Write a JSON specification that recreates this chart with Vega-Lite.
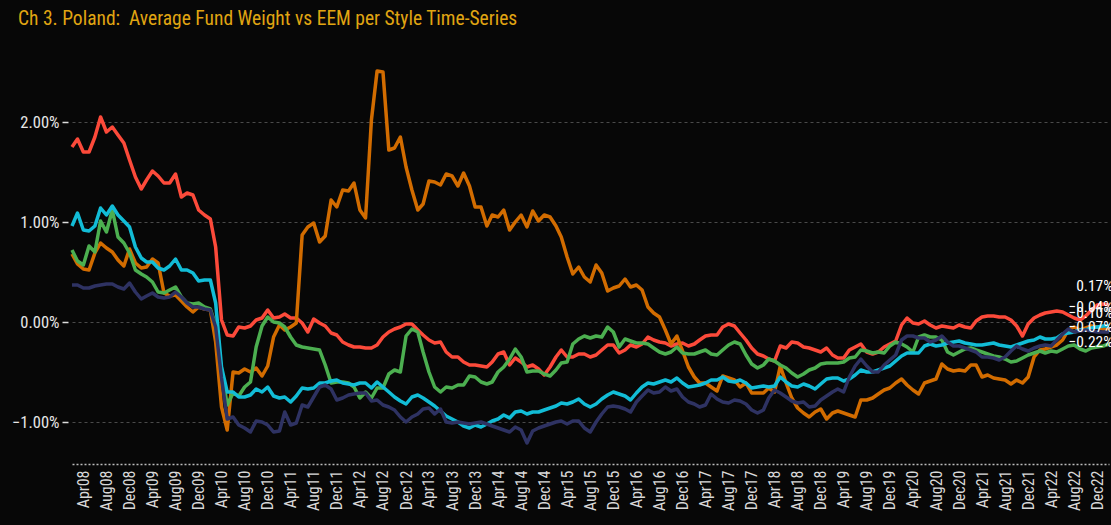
{
"$schema":"https://vega.github.io/schema/vega-lite/v6.json",
"width":1037,"height":402,
"autosize":{"type":"none"},
"padding":{"left":72,"top":62,"right":2,"bottom":61},
"background":"#070707",
"title":{"text":"Ch 3. Poland: \u00a0Average Fund Weight vs EEM per Style Time-Series","anchor":"start","frame":"group","color":"#e0a512","fontSize":19.5,"fontWeight":"normal","font":"Roboto Condensed, Liberation Sans Narrow, DejaVu Sans Condensed, Roboto","dx":-54,"offset":33},
"config":{"view":{"stroke":null},"font":"Roboto Condensed, Liberation Sans Narrow, DejaVu Sans Condensed, Roboto"},
"data":{"format":{"parse":{"d":"utc:'%Y-%m'"}},"values":[
{"d":"2008-02","s":"Value","v":0.0175},{"d":"2008-03","s":"Value","v":0.0183},{"d":"2008-04","s":"Value","v":0.0170},{"d":"2008-05","s":"Value","v":0.0170},{"d":"2008-06","s":"Value","v":0.0185},{"d":"2008-07","s":"Value","v":0.0205},{"d":"2008-08","s":"Value","v":0.0190},{"d":"2008-09","s":"Value","v":0.0195},{"d":"2008-10","s":"Value","v":0.0187},{"d":"2008-11","s":"Value","v":0.0179},{"d":"2008-12","s":"Value","v":0.0162},
{"d":"2009-01","s":"Value","v":0.0145},{"d":"2009-02","s":"Value","v":0.0133},{"d":"2009-03","s":"Value","v":0.0142},{"d":"2009-04","s":"Value","v":0.0151},{"d":"2009-05","s":"Value","v":0.0146},{"d":"2009-06","s":"Value","v":0.0139},{"d":"2009-07","s":"Value","v":0.0139},{"d":"2009-08","s":"Value","v":0.0148},{"d":"2009-09","s":"Value","v":0.0125},{"d":"2009-10","s":"Value","v":0.0129},{"d":"2009-11","s":"Value","v":0.0127},{"d":"2009-12","s":"Value","v":0.0112},
{"d":"2010-01","s":"Value","v":0.0107},{"d":"2010-02","s":"Value","v":0.0103},{"d":"2010-03","s":"Value","v":0.0075},{"d":"2010-04","s":"Value","v":0.0002},{"d":"2010-05","s":"Value","v":-0.0013},{"d":"2010-06","s":"Value","v":-0.0014},{"d":"2010-07","s":"Value","v":-0.0005},{"d":"2010-08","s":"Value","v":-0.0006},{"d":"2010-09","s":"Value","v":-0.0004},{"d":"2010-10","s":"Value","v":0.0002},{"d":"2010-11","s":"Value","v":0.0004},{"d":"2010-12","s":"Value","v":0.0012},
{"d":"2011-01","s":"Value","v":0.0004},{"d":"2011-02","s":"Value","v":0.0005},{"d":"2011-03","s":"Value","v":0.0008},{"d":"2011-04","s":"Value","v":0.0004},{"d":"2011-05","s":"Value","v":0.0004},{"d":"2011-06","s":"Value","v":-0.0001},{"d":"2011-07","s":"Value","v":-0.0010},{"d":"2011-08","s":"Value","v":0.0003},{"d":"2011-09","s":"Value","v":-0.0001},{"d":"2011-10","s":"Value","v":-0.0004},{"d":"2011-11","s":"Value","v":-0.0011},{"d":"2011-12","s":"Value","v":-0.0013},
{"d":"2012-01","s":"Value","v":-0.0020},{"d":"2012-02","s":"Value","v":-0.0023},{"d":"2012-03","s":"Value","v":-0.0025},{"d":"2012-04","s":"Value","v":-0.0025},{"d":"2012-05","s":"Value","v":-0.0026},{"d":"2012-06","s":"Value","v":-0.0026},{"d":"2012-07","s":"Value","v":-0.0023},{"d":"2012-08","s":"Value","v":-0.0015},{"d":"2012-09","s":"Value","v":-0.0010},{"d":"2012-10","s":"Value","v":-0.0007},{"d":"2012-11","s":"Value","v":-0.0005},{"d":"2012-12","s":"Value","v":-0.0002},
{"d":"2013-01","s":"Value","v":-0.0002},{"d":"2013-02","s":"Value","v":-0.0008},{"d":"2013-03","s":"Value","v":-0.0013},{"d":"2013-04","s":"Value","v":-0.0018},{"d":"2013-05","s":"Value","v":-0.0021},{"d":"2013-06","s":"Value","v":-0.0020},{"d":"2013-07","s":"Value","v":-0.0030},{"d":"2013-08","s":"Value","v":-0.0035},{"d":"2013-09","s":"Value","v":-0.0035},{"d":"2013-10","s":"Value","v":-0.0040},{"d":"2013-11","s":"Value","v":-0.0043},{"d":"2013-12","s":"Value","v":-0.0043},
{"d":"2014-01","s":"Value","v":-0.0044},{"d":"2014-02","s":"Value","v":-0.0045},{"d":"2014-03","s":"Value","v":-0.0040},{"d":"2014-04","s":"Value","v":-0.0032},{"d":"2014-05","s":"Value","v":-0.0030},{"d":"2014-06","s":"Value","v":-0.0043},{"d":"2014-07","s":"Value","v":-0.0036},{"d":"2014-08","s":"Value","v":-0.0040},{"d":"2014-09","s":"Value","v":-0.0045},{"d":"2014-10","s":"Value","v":-0.0043},{"d":"2014-11","s":"Value","v":-0.0047},{"d":"2014-12","s":"Value","v":-0.0053},
{"d":"2015-01","s":"Value","v":-0.0045},{"d":"2015-02","s":"Value","v":-0.0035},{"d":"2015-03","s":"Value","v":-0.0028},{"d":"2015-04","s":"Value","v":-0.0035},{"d":"2015-05","s":"Value","v":-0.0035},{"d":"2015-06","s":"Value","v":-0.0032},{"d":"2015-07","s":"Value","v":-0.0032},{"d":"2015-08","s":"Value","v":-0.0035},{"d":"2015-09","s":"Value","v":-0.0033},{"d":"2015-10","s":"Value","v":-0.0028},{"d":"2015-11","s":"Value","v":-0.0023},{"d":"2015-12","s":"Value","v":-0.0023},
{"d":"2016-01","s":"Value","v":-0.0031},{"d":"2016-02","s":"Value","v":-0.0028},{"d":"2016-03","s":"Value","v":-0.0023},{"d":"2016-04","s":"Value","v":-0.0025},{"d":"2016-05","s":"Value","v":-0.0022},{"d":"2016-06","s":"Value","v":-0.0015},{"d":"2016-07","s":"Value","v":-0.0018},{"d":"2016-08","s":"Value","v":-0.0020},{"d":"2016-09","s":"Value","v":-0.0021},{"d":"2016-10","s":"Value","v":-0.0024},{"d":"2016-11","s":"Value","v":-0.0022},{"d":"2016-12","s":"Value","v":-0.0021},
{"d":"2017-01","s":"Value","v":-0.0024},{"d":"2017-02","s":"Value","v":-0.0022},{"d":"2017-03","s":"Value","v":-0.0018},{"d":"2017-04","s":"Value","v":-0.0014},{"d":"2017-05","s":"Value","v":-0.0013},{"d":"2017-06","s":"Value","v":-0.0013},{"d":"2017-07","s":"Value","v":-0.0005},{"d":"2017-08","s":"Value","v":-0.0002},{"d":"2017-09","s":"Value","v":-0.0004},{"d":"2017-10","s":"Value","v":-0.0011},{"d":"2017-11","s":"Value","v":-0.0018},{"d":"2017-12","s":"Value","v":-0.0026},
{"d":"2018-01","s":"Value","v":-0.0032},{"d":"2018-02","s":"Value","v":-0.0034},{"d":"2018-03","s":"Value","v":-0.0037},{"d":"2018-04","s":"Value","v":-0.0039},{"d":"2018-05","s":"Value","v":-0.0024},{"d":"2018-06","s":"Value","v":-0.0026},{"d":"2018-07","s":"Value","v":-0.0020},{"d":"2018-08","s":"Value","v":-0.0021},{"d":"2018-09","s":"Value","v":-0.0025},{"d":"2018-10","s":"Value","v":-0.0026},{"d":"2018-11","s":"Value","v":-0.0028},{"d":"2018-12","s":"Value","v":-0.0030},
{"d":"2019-01","s":"Value","v":-0.0026},{"d":"2019-02","s":"Value","v":-0.0033},{"d":"2019-03","s":"Value","v":-0.0036},{"d":"2019-04","s":"Value","v":-0.0036},{"d":"2019-05","s":"Value","v":-0.0028},{"d":"2019-06","s":"Value","v":-0.0025},{"d":"2019-07","s":"Value","v":-0.0022},{"d":"2019-08","s":"Value","v":-0.0030},{"d":"2019-09","s":"Value","v":-0.0032},{"d":"2019-10","s":"Value","v":-0.0030},{"d":"2019-11","s":"Value","v":-0.0025},{"d":"2019-12","s":"Value","v":-0.0022},
{"d":"2020-01","s":"Value","v":-0.0019},{"d":"2020-02","s":"Value","v":-0.0003},{"d":"2020-03","s":"Value","v":0.0004},{"d":"2020-04","s":"Value","v":-0.0001},{"d":"2020-05","s":"Value","v":-0.0002},{"d":"2020-06","s":"Value","v":0.0001},{"d":"2020-07","s":"Value","v":-0.0003},{"d":"2020-08","s":"Value","v":-0.0006},{"d":"2020-09","s":"Value","v":-0.0004},{"d":"2020-10","s":"Value","v":-0.0005},{"d":"2020-11","s":"Value","v":-0.0006},{"d":"2020-12","s":"Value","v":-0.0003},
{"d":"2021-01","s":"Value","v":-0.0005},{"d":"2021-02","s":"Value","v":-0.0006},{"d":"2021-03","s":"Value","v":0.0001},{"d":"2021-04","s":"Value","v":0.0005},{"d":"2021-05","s":"Value","v":0.0006},{"d":"2021-06","s":"Value","v":0.0006},{"d":"2021-07","s":"Value","v":0.0005},{"d":"2021-08","s":"Value","v":0.0005},{"d":"2021-09","s":"Value","v":0.0002},{"d":"2021-10","s":"Value","v":-0.0004},{"d":"2021-11","s":"Value","v":-0.0014},{"d":"2021-12","s":"Value","v":-0.0002},
{"d":"2022-01","s":"Value","v":0.0004},{"d":"2022-02","s":"Value","v":0.0007},{"d":"2022-03","s":"Value","v":0.0009},{"d":"2022-04","s":"Value","v":0.0010},{"d":"2022-05","s":"Value","v":0.0011},{"d":"2022-06","s":"Value","v":0.0010},{"d":"2022-07","s":"Value","v":0.0007},{"d":"2022-08","s":"Value","v":0.0004},{"d":"2022-09","s":"Value","v":0.0002},{"d":"2022-10","s":"Value","v":0.0006},{"d":"2022-11","s":"Value","v":0.0012},{"d":"2022-12","s":"Value","v":0.0017},
{"d":"2023-01","s":"Value","v":0.0018},{"d":"2023-02","s":"Value","v":0.0017},

{"d":"2008-02","s":"Aggr","v":0.0068},{"d":"2008-03","s":"Aggr","v":0.0058},{"d":"2008-04","s":"Aggr","v":0.0053},{"d":"2008-05","s":"Aggr","v":0.0052},{"d":"2008-06","s":"Aggr","v":0.0069},{"d":"2008-07","s":"Aggr","v":0.0079},{"d":"2008-08","s":"Aggr","v":0.0074},{"d":"2008-09","s":"Aggr","v":0.0070},{"d":"2008-10","s":"Aggr","v":0.0062},{"d":"2008-11","s":"Aggr","v":0.0056},{"d":"2008-12","s":"Aggr","v":0.0073},
{"d":"2009-01","s":"Aggr","v":0.0059},{"d":"2009-02","s":"Aggr","v":0.0054},{"d":"2009-03","s":"Aggr","v":0.0055},{"d":"2009-04","s":"Aggr","v":0.0063},{"d":"2009-05","s":"Aggr","v":0.0059},{"d":"2009-06","s":"Aggr","v":0.0029},{"d":"2009-07","s":"Aggr","v":0.0026},{"d":"2009-08","s":"Aggr","v":0.0027},{"d":"2009-09","s":"Aggr","v":0.0021},{"d":"2009-10","s":"Aggr","v":0.0015},{"d":"2009-11","s":"Aggr","v":0.0010},{"d":"2009-12","s":"Aggr","v":0.0015},
{"d":"2010-01","s":"Aggr","v":0.0013},{"d":"2010-02","s":"Aggr","v":0.0012},{"d":"2010-03","s":"Aggr","v":-0.0020},{"d":"2010-04","s":"Aggr","v":-0.0085},{"d":"2010-05","s":"Aggr","v":-0.0108},{"d":"2010-06","s":"Aggr","v":-0.0050},{"d":"2010-07","s":"Aggr","v":-0.0051},{"d":"2010-08","s":"Aggr","v":-0.0047},{"d":"2010-09","s":"Aggr","v":-0.0050},{"d":"2010-10","s":"Aggr","v":-0.0046},{"d":"2010-11","s":"Aggr","v":-0.0054},{"d":"2010-12","s":"Aggr","v":-0.0044},
{"d":"2011-01","s":"Aggr","v":-0.0015},{"d":"2011-02","s":"Aggr","v":-0.0003},{"d":"2011-03","s":"Aggr","v":-0.0008},{"d":"2011-04","s":"Aggr","v":-0.0005},{"d":"2011-05","s":"Aggr","v":-0.0001},{"d":"2011-06","s":"Aggr","v":0.0087},{"d":"2011-07","s":"Aggr","v":0.0095},{"d":"2011-08","s":"Aggr","v":0.0099},{"d":"2011-09","s":"Aggr","v":0.0080},{"d":"2011-10","s":"Aggr","v":0.0086},{"d":"2011-11","s":"Aggr","v":0.0122},{"d":"2011-12","s":"Aggr","v":0.0115},
{"d":"2012-01","s":"Aggr","v":0.0132},{"d":"2012-02","s":"Aggr","v":0.0131},{"d":"2012-03","s":"Aggr","v":0.0139},{"d":"2012-04","s":"Aggr","v":0.0112},{"d":"2012-05","s":"Aggr","v":0.0104},{"d":"2012-06","s":"Aggr","v":0.0202},{"d":"2012-07","s":"Aggr","v":0.0251},{"d":"2012-08","s":"Aggr","v":0.0250},{"d":"2012-09","s":"Aggr","v":0.0172},{"d":"2012-10","s":"Aggr","v":0.0174},{"d":"2012-11","s":"Aggr","v":0.0185},{"d":"2012-12","s":"Aggr","v":0.0155},
{"d":"2013-01","s":"Aggr","v":0.0132},{"d":"2013-02","s":"Aggr","v":0.0112},{"d":"2013-03","s":"Aggr","v":0.0118},{"d":"2013-04","s":"Aggr","v":0.0141},{"d":"2013-05","s":"Aggr","v":0.0140},{"d":"2013-06","s":"Aggr","v":0.0137},{"d":"2013-07","s":"Aggr","v":0.0148},{"d":"2013-08","s":"Aggr","v":0.0146},{"d":"2013-09","s":"Aggr","v":0.0136},{"d":"2013-10","s":"Aggr","v":0.0149},{"d":"2013-11","s":"Aggr","v":0.0136},{"d":"2013-12","s":"Aggr","v":0.0115},
{"d":"2014-01","s":"Aggr","v":0.0115},{"d":"2014-02","s":"Aggr","v":0.0096},{"d":"2014-03","s":"Aggr","v":0.0107},{"d":"2014-04","s":"Aggr","v":0.0105},{"d":"2014-05","s":"Aggr","v":0.0112},{"d":"2014-06","s":"Aggr","v":0.0092},{"d":"2014-07","s":"Aggr","v":0.0100},{"d":"2014-08","s":"Aggr","v":0.0107},{"d":"2014-09","s":"Aggr","v":0.0095},{"d":"2014-10","s":"Aggr","v":0.0111},{"d":"2014-11","s":"Aggr","v":0.0101},{"d":"2014-12","s":"Aggr","v":0.0107},
{"d":"2015-01","s":"Aggr","v":0.0105},{"d":"2015-02","s":"Aggr","v":0.0096},{"d":"2015-03","s":"Aggr","v":0.0085},{"d":"2015-04","s":"Aggr","v":0.0065},{"d":"2015-05","s":"Aggr","v":0.0048},{"d":"2015-06","s":"Aggr","v":0.0055},{"d":"2015-07","s":"Aggr","v":0.0045},{"d":"2015-08","s":"Aggr","v":0.0040},{"d":"2015-09","s":"Aggr","v":0.0057},{"d":"2015-10","s":"Aggr","v":0.0049},{"d":"2015-11","s":"Aggr","v":0.0031},{"d":"2015-12","s":"Aggr","v":0.0034},
{"d":"2016-01","s":"Aggr","v":0.0036},{"d":"2016-02","s":"Aggr","v":0.0043},{"d":"2016-03","s":"Aggr","v":0.0035},{"d":"2016-04","s":"Aggr","v":0.0037},{"d":"2016-05","s":"Aggr","v":0.0032},{"d":"2016-06","s":"Aggr","v":0.0015},{"d":"2016-07","s":"Aggr","v":0.0009},{"d":"2016-08","s":"Aggr","v":0.0005},{"d":"2016-09","s":"Aggr","v":-0.0008},{"d":"2016-10","s":"Aggr","v":-0.0022},{"d":"2016-11","s":"Aggr","v":-0.0014},{"d":"2016-12","s":"Aggr","v":-0.0029},
{"d":"2017-01","s":"Aggr","v":-0.0045},{"d":"2017-02","s":"Aggr","v":-0.0055},{"d":"2017-03","s":"Aggr","v":-0.0061},{"d":"2017-04","s":"Aggr","v":-0.0061},{"d":"2017-05","s":"Aggr","v":-0.0065},{"d":"2017-06","s":"Aggr","v":-0.0069},{"d":"2017-07","s":"Aggr","v":-0.0054},{"d":"2017-08","s":"Aggr","v":-0.0056},{"d":"2017-09","s":"Aggr","v":-0.0058},{"d":"2017-10","s":"Aggr","v":-0.0065},{"d":"2017-11","s":"Aggr","v":-0.0061},{"d":"2017-12","s":"Aggr","v":-0.0071},
{"d":"2018-01","s":"Aggr","v":-0.0071},{"d":"2018-02","s":"Aggr","v":-0.0071},{"d":"2018-03","s":"Aggr","v":-0.0066},{"d":"2018-04","s":"Aggr","v":-0.0070},{"d":"2018-05","s":"Aggr","v":-0.0044},{"d":"2018-06","s":"Aggr","v":-0.0061},{"d":"2018-07","s":"Aggr","v":-0.0076},{"d":"2018-08","s":"Aggr","v":-0.0086},{"d":"2018-09","s":"Aggr","v":-0.0091},{"d":"2018-10","s":"Aggr","v":-0.0095},{"d":"2018-11","s":"Aggr","v":-0.0090},{"d":"2018-12","s":"Aggr","v":-0.0087},
{"d":"2019-01","s":"Aggr","v":-0.0097},{"d":"2019-02","s":"Aggr","v":-0.0091},{"d":"2019-03","s":"Aggr","v":-0.0089},{"d":"2019-04","s":"Aggr","v":-0.0091},{"d":"2019-05","s":"Aggr","v":-0.0093},{"d":"2019-06","s":"Aggr","v":-0.0095},{"d":"2019-07","s":"Aggr","v":-0.0078},{"d":"2019-08","s":"Aggr","v":-0.0078},{"d":"2019-09","s":"Aggr","v":-0.0076},{"d":"2019-10","s":"Aggr","v":-0.0072},{"d":"2019-11","s":"Aggr","v":-0.0068},{"d":"2019-12","s":"Aggr","v":-0.0066},
{"d":"2020-01","s":"Aggr","v":-0.0061},{"d":"2020-02","s":"Aggr","v":-0.0057},{"d":"2020-03","s":"Aggr","v":-0.0063},{"d":"2020-04","s":"Aggr","v":-0.0068},{"d":"2020-05","s":"Aggr","v":-0.0072},{"d":"2020-06","s":"Aggr","v":-0.0061},{"d":"2020-07","s":"Aggr","v":-0.0059},{"d":"2020-08","s":"Aggr","v":-0.0057},{"d":"2020-09","s":"Aggr","v":-0.0042},{"d":"2020-10","s":"Aggr","v":-0.0047},{"d":"2020-11","s":"Aggr","v":-0.0049},{"d":"2020-12","s":"Aggr","v":-0.0048},
{"d":"2021-01","s":"Aggr","v":-0.0049},{"d":"2021-02","s":"Aggr","v":-0.0043},{"d":"2021-03","s":"Aggr","v":-0.0043},{"d":"2021-04","s":"Aggr","v":-0.0055},{"d":"2021-05","s":"Aggr","v":-0.0053},{"d":"2021-06","s":"Aggr","v":-0.0056},{"d":"2021-07","s":"Aggr","v":-0.0057},{"d":"2021-08","s":"Aggr","v":-0.0058},{"d":"2021-09","s":"Aggr","v":-0.0062},{"d":"2021-10","s":"Aggr","v":-0.0058},{"d":"2021-11","s":"Aggr","v":-0.0061},{"d":"2021-12","s":"Aggr","v":-0.0055},
{"d":"2022-01","s":"Aggr","v":-0.0035},{"d":"2022-02","s":"Aggr","v":-0.0028},{"d":"2022-03","s":"Aggr","v":-0.0027},{"d":"2022-04","s":"Aggr","v":-0.0025},{"d":"2022-05","s":"Aggr","v":-0.0023},{"d":"2022-06","s":"Aggr","v":-0.0018},{"d":"2022-07","s":"Aggr","v":-0.0008},{"d":"2022-08","s":"Aggr","v":-0.0005},{"d":"2022-09","s":"Aggr","v":-0.0008},{"d":"2022-10","s":"Aggr","v":-0.0006},{"d":"2022-11","s":"Aggr","v":-0.0004},{"d":"2022-12","s":"Aggr","v":-0.0005},
{"d":"2023-01","s":"Aggr","v":-0.0007},{"d":"2023-02","s":"Aggr","v":-0.0007},

{"d":"2008-02","s":"GARP","v":0.0072},{"d":"2008-03","s":"GARP","v":0.0061},{"d":"2008-04","s":"GARP","v":0.0057},{"d":"2008-05","s":"GARP","v":0.0076},{"d":"2008-06","s":"GARP","v":0.0070},{"d":"2008-07","s":"GARP","v":0.0101},{"d":"2008-08","s":"GARP","v":0.0090},{"d":"2008-09","s":"GARP","v":0.0112},{"d":"2008-10","s":"GARP","v":0.0085},{"d":"2008-11","s":"GARP","v":0.0079},{"d":"2008-12","s":"GARP","v":0.0069},
{"d":"2009-01","s":"GARP","v":0.0052},{"d":"2009-02","s":"GARP","v":0.0048},{"d":"2009-03","s":"GARP","v":0.0045},{"d":"2009-04","s":"GARP","v":0.0040},{"d":"2009-05","s":"GARP","v":0.0030},{"d":"2009-06","s":"GARP","v":0.0029},{"d":"2009-07","s":"GARP","v":0.0032},{"d":"2009-08","s":"GARP","v":0.0035},{"d":"2009-09","s":"GARP","v":0.0025},{"d":"2009-10","s":"GARP","v":0.0019},{"d":"2009-11","s":"GARP","v":0.0018},{"d":"2009-12","s":"GARP","v":0.0019},
{"d":"2010-01","s":"GARP","v":0.0015},{"d":"2010-02","s":"GARP","v":0.0013},{"d":"2010-03","s":"GARP","v":-0.0003},{"d":"2010-04","s":"GARP","v":-0.0047},{"d":"2010-05","s":"GARP","v":-0.0083},{"d":"2010-06","s":"GARP","v":-0.0071},{"d":"2010-07","s":"GARP","v":-0.0074},{"d":"2010-08","s":"GARP","v":-0.0065},{"d":"2010-09","s":"GARP","v":-0.0060},{"d":"2010-10","s":"GARP","v":-0.0025},{"d":"2010-11","s":"GARP","v":-0.0004},{"d":"2010-12","s":"GARP","v":0.0005},
{"d":"2011-01","s":"GARP","v":0.0000},{"d":"2011-02","s":"GARP","v":-0.0001},{"d":"2011-03","s":"GARP","v":-0.0005},{"d":"2011-04","s":"GARP","v":-0.0015},{"d":"2011-05","s":"GARP","v":-0.0023},{"d":"2011-06","s":"GARP","v":-0.0025},{"d":"2011-07","s":"GARP","v":-0.0026},{"d":"2011-08","s":"GARP","v":-0.0027},{"d":"2011-09","s":"GARP","v":-0.0028},{"d":"2011-10","s":"GARP","v":-0.0043},{"d":"2011-11","s":"GARP","v":-0.0061},{"d":"2011-12","s":"GARP","v":-0.0060},
{"d":"2012-01","s":"GARP","v":-0.0060},{"d":"2012-02","s":"GARP","v":-0.0061},{"d":"2012-03","s":"GARP","v":-0.0065},{"d":"2012-04","s":"GARP","v":-0.0076},{"d":"2012-05","s":"GARP","v":-0.0070},{"d":"2012-06","s":"GARP","v":-0.0076},{"d":"2012-07","s":"GARP","v":-0.0066},{"d":"2012-08","s":"GARP","v":-0.0066},{"d":"2012-09","s":"GARP","v":-0.0052},{"d":"2012-10","s":"GARP","v":-0.0048},{"d":"2012-11","s":"GARP","v":-0.0050},{"d":"2012-12","s":"GARP","v":-0.0014},
{"d":"2013-01","s":"GARP","v":-0.0007},{"d":"2013-02","s":"GARP","v":-0.0010},{"d":"2013-03","s":"GARP","v":-0.0030},{"d":"2013-04","s":"GARP","v":-0.0050},{"d":"2013-05","s":"GARP","v":-0.0065},{"d":"2013-06","s":"GARP","v":-0.0070},{"d":"2013-07","s":"GARP","v":-0.0065},{"d":"2013-08","s":"GARP","v":-0.0066},{"d":"2013-09","s":"GARP","v":-0.0063},{"d":"2013-10","s":"GARP","v":-0.0063},{"d":"2013-11","s":"GARP","v":-0.0054},{"d":"2013-12","s":"GARP","v":-0.0055},
{"d":"2014-01","s":"GARP","v":-0.0060},{"d":"2014-02","s":"GARP","v":-0.0062},{"d":"2014-03","s":"GARP","v":-0.0060},{"d":"2014-04","s":"GARP","v":-0.0050},{"d":"2014-05","s":"GARP","v":-0.0045},{"d":"2014-06","s":"GARP","v":-0.0037},{"d":"2014-07","s":"GARP","v":-0.0027},{"d":"2014-08","s":"GARP","v":-0.0035},{"d":"2014-09","s":"GARP","v":-0.0050},{"d":"2014-10","s":"GARP","v":-0.0049},{"d":"2014-11","s":"GARP","v":-0.0049},{"d":"2014-12","s":"GARP","v":-0.0052},
{"d":"2015-01","s":"GARP","v":-0.0054},{"d":"2015-02","s":"GARP","v":-0.0048},{"d":"2015-03","s":"GARP","v":-0.0041},{"d":"2015-04","s":"GARP","v":-0.0040},{"d":"2015-05","s":"GARP","v":-0.0022},{"d":"2015-06","s":"GARP","v":-0.0017},{"d":"2015-07","s":"GARP","v":-0.0014},{"d":"2015-08","s":"GARP","v":-0.0016},{"d":"2015-09","s":"GARP","v":-0.0014},{"d":"2015-10","s":"GARP","v":-0.0015},{"d":"2015-11","s":"GARP","v":-0.0005},{"d":"2015-12","s":"GARP","v":-0.0010},
{"d":"2016-01","s":"GARP","v":-0.0025},{"d":"2016-02","s":"GARP","v":-0.0017},{"d":"2016-03","s":"GARP","v":-0.0019},{"d":"2016-04","s":"GARP","v":-0.0021},{"d":"2016-05","s":"GARP","v":-0.0021},{"d":"2016-06","s":"GARP","v":-0.0022},{"d":"2016-07","s":"GARP","v":-0.0026},{"d":"2016-08","s":"GARP","v":-0.0030},{"d":"2016-09","s":"GARP","v":-0.0032},{"d":"2016-10","s":"GARP","v":-0.0030},{"d":"2016-11","s":"GARP","v":-0.0025},{"d":"2016-12","s":"GARP","v":-0.0031},
{"d":"2017-01","s":"GARP","v":-0.0032},{"d":"2017-02","s":"GARP","v":-0.0032},{"d":"2017-03","s":"GARP","v":-0.0030},{"d":"2017-04","s":"GARP","v":-0.0028},{"d":"2017-05","s":"GARP","v":-0.0032},{"d":"2017-06","s":"GARP","v":-0.0033},{"d":"2017-07","s":"GARP","v":-0.0028},{"d":"2017-08","s":"GARP","v":-0.0023},{"d":"2017-09","s":"GARP","v":-0.0020},{"d":"2017-10","s":"GARP","v":-0.0022},{"d":"2017-11","s":"GARP","v":-0.0033},{"d":"2017-12","s":"GARP","v":-0.0042},
{"d":"2018-01","s":"GARP","v":-0.0046},{"d":"2018-02","s":"GARP","v":-0.0043},{"d":"2018-03","s":"GARP","v":-0.0037},{"d":"2018-04","s":"GARP","v":-0.0039},{"d":"2018-05","s":"GARP","v":-0.0043},{"d":"2018-06","s":"GARP","v":-0.0046},{"d":"2018-07","s":"GARP","v":-0.0051},{"d":"2018-08","s":"GARP","v":-0.0055},{"d":"2018-09","s":"GARP","v":-0.0052},{"d":"2018-10","s":"GARP","v":-0.0048},{"d":"2018-11","s":"GARP","v":-0.0046},{"d":"2018-12","s":"GARP","v":-0.0042},
{"d":"2019-01","s":"GARP","v":-0.0041},{"d":"2019-02","s":"GARP","v":-0.0041},{"d":"2019-03","s":"GARP","v":-0.0041},{"d":"2019-04","s":"GARP","v":-0.0040},{"d":"2019-05","s":"GARP","v":-0.0036},{"d":"2019-06","s":"GARP","v":-0.0035},{"d":"2019-07","s":"GARP","v":-0.0028},{"d":"2019-08","s":"GARP","v":-0.0029},{"d":"2019-09","s":"GARP","v":-0.0031},{"d":"2019-10","s":"GARP","v":-0.0030},{"d":"2019-11","s":"GARP","v":-0.0031},{"d":"2019-12","s":"GARP","v":-0.0024},
{"d":"2020-01","s":"GARP","v":-0.0020},{"d":"2020-02","s":"GARP","v":-0.0022},{"d":"2020-03","s":"GARP","v":-0.0025},{"d":"2020-04","s":"GARP","v":-0.0030},{"d":"2020-05","s":"GARP","v":-0.0015},{"d":"2020-06","s":"GARP","v":-0.0013},{"d":"2020-07","s":"GARP","v":-0.0015},{"d":"2020-08","s":"GARP","v":-0.0015},{"d":"2020-09","s":"GARP","v":-0.0018},{"d":"2020-10","s":"GARP","v":-0.0030},{"d":"2020-11","s":"GARP","v":-0.0033},{"d":"2020-12","s":"GARP","v":-0.0030},
{"d":"2021-01","s":"GARP","v":-0.0027},{"d":"2021-02","s":"GARP","v":-0.0026},{"d":"2021-03","s":"GARP","v":-0.0028},{"d":"2021-04","s":"GARP","v":-0.0030},{"d":"2021-05","s":"GARP","v":-0.0032},{"d":"2021-06","s":"GARP","v":-0.0034},{"d":"2021-07","s":"GARP","v":-0.0035},{"d":"2021-08","s":"GARP","v":-0.0037},{"d":"2021-09","s":"GARP","v":-0.0040},{"d":"2021-10","s":"GARP","v":-0.0039},{"d":"2021-11","s":"GARP","v":-0.0036},{"d":"2021-12","s":"GARP","v":-0.0033},
{"d":"2022-01","s":"GARP","v":-0.0031},{"d":"2022-02","s":"GARP","v":-0.0029},{"d":"2022-03","s":"GARP","v":-0.0031},{"d":"2022-04","s":"GARP","v":-0.0029},{"d":"2022-05","s":"GARP","v":-0.0030},{"d":"2022-06","s":"GARP","v":-0.0027},{"d":"2022-07","s":"GARP","v":-0.0024},{"d":"2022-08","s":"GARP","v":-0.0023},{"d":"2022-09","s":"GARP","v":-0.0027},{"d":"2022-10","s":"GARP","v":-0.0029},{"d":"2022-11","s":"GARP","v":-0.0026},{"d":"2022-12","s":"GARP","v":-0.0025},
{"d":"2023-01","s":"GARP","v":-0.0024},{"d":"2023-02","s":"GARP","v":-0.0022},

{"d":"2008-02","s":"Growth","v":0.0096},{"d":"2008-03","s":"Growth","v":0.0109},{"d":"2008-04","s":"Growth","v":0.0092},{"d":"2008-05","s":"Growth","v":0.0091},{"d":"2008-06","s":"Growth","v":0.0096},{"d":"2008-07","s":"Growth","v":0.0114},{"d":"2008-08","s":"Growth","v":0.0107},{"d":"2008-09","s":"Growth","v":0.0116},{"d":"2008-10","s":"Growth","v":0.0107},{"d":"2008-11","s":"Growth","v":0.0101},{"d":"2008-12","s":"Growth","v":0.0095},
{"d":"2009-01","s":"Growth","v":0.0075},{"d":"2009-02","s":"Growth","v":0.0064},{"d":"2009-03","s":"Growth","v":0.0060},{"d":"2009-04","s":"Growth","v":0.0060},{"d":"2009-05","s":"Growth","v":0.0054},{"d":"2009-06","s":"Growth","v":0.0052},{"d":"2009-07","s":"Growth","v":0.0056},{"d":"2009-08","s":"Growth","v":0.0063},{"d":"2009-09","s":"Growth","v":0.0052},{"d":"2009-10","s":"Growth","v":0.0052},{"d":"2009-11","s":"Growth","v":0.0049},{"d":"2009-12","s":"Growth","v":0.0041},
{"d":"2010-01","s":"Growth","v":0.0042},{"d":"2010-02","s":"Growth","v":0.0042},{"d":"2010-03","s":"Growth","v":0.0019},{"d":"2010-04","s":"Growth","v":-0.0045},{"d":"2010-05","s":"Growth","v":-0.0070},{"d":"2010-06","s":"Growth","v":-0.0070},{"d":"2010-07","s":"Growth","v":-0.0075},{"d":"2010-08","s":"Growth","v":-0.0075},{"d":"2010-09","s":"Growth","v":-0.0073},{"d":"2010-10","s":"Growth","v":-0.0067},{"d":"2010-11","s":"Growth","v":-0.0070},{"d":"2010-12","s":"Growth","v":-0.0065},
{"d":"2011-01","s":"Growth","v":-0.0074},{"d":"2011-02","s":"Growth","v":-0.0076},{"d":"2011-03","s":"Growth","v":-0.0075},{"d":"2011-04","s":"Growth","v":-0.0080},{"d":"2011-05","s":"Growth","v":-0.0074},{"d":"2011-06","s":"Growth","v":-0.0066},{"d":"2011-07","s":"Growth","v":-0.0067},{"d":"2011-08","s":"Growth","v":-0.0066},{"d":"2011-09","s":"Growth","v":-0.0061},{"d":"2011-10","s":"Growth","v":-0.0061},{"d":"2011-11","s":"Growth","v":-0.0059},{"d":"2011-12","s":"Growth","v":-0.0058},
{"d":"2012-01","s":"Growth","v":-0.0061},{"d":"2012-02","s":"Growth","v":-0.0062},{"d":"2012-03","s":"Growth","v":-0.0063},{"d":"2012-04","s":"Growth","v":-0.0061},{"d":"2012-05","s":"Growth","v":-0.0061},{"d":"2012-06","s":"Growth","v":-0.0066},{"d":"2012-07","s":"Growth","v":-0.0060},{"d":"2012-08","s":"Growth","v":-0.0065},{"d":"2012-09","s":"Growth","v":-0.0070},{"d":"2012-10","s":"Growth","v":-0.0075},{"d":"2012-11","s":"Growth","v":-0.0079},{"d":"2012-12","s":"Growth","v":-0.0082},
{"d":"2013-01","s":"Growth","v":-0.0075},{"d":"2013-02","s":"Growth","v":-0.0073},{"d":"2013-03","s":"Growth","v":-0.0076},{"d":"2013-04","s":"Growth","v":-0.0080},{"d":"2013-05","s":"Growth","v":-0.0084},{"d":"2013-06","s":"Growth","v":-0.0089},{"d":"2013-07","s":"Growth","v":-0.0094},{"d":"2013-08","s":"Growth","v":-0.0097},{"d":"2013-09","s":"Growth","v":-0.0100},{"d":"2013-10","s":"Growth","v":-0.0104},{"d":"2013-11","s":"Growth","v":-0.0106},{"d":"2013-12","s":"Growth","v":-0.0103},
{"d":"2014-01","s":"Growth","v":-0.0105},{"d":"2014-02","s":"Growth","v":-0.0102},{"d":"2014-03","s":"Growth","v":-0.0099},{"d":"2014-04","s":"Growth","v":-0.0097},{"d":"2014-05","s":"Growth","v":-0.0093},{"d":"2014-06","s":"Growth","v":-0.0096},{"d":"2014-07","s":"Growth","v":-0.0090},{"d":"2014-08","s":"Growth","v":-0.0089},{"d":"2014-09","s":"Growth","v":-0.0092},{"d":"2014-10","s":"Growth","v":-0.0090},{"d":"2014-11","s":"Growth","v":-0.0090},{"d":"2014-12","s":"Growth","v":-0.0088},
{"d":"2015-01","s":"Growth","v":-0.0086},{"d":"2015-02","s":"Growth","v":-0.0084},{"d":"2015-03","s":"Growth","v":-0.0081},{"d":"2015-04","s":"Growth","v":-0.0082},{"d":"2015-05","s":"Growth","v":-0.0080},{"d":"2015-06","s":"Growth","v":-0.0077},{"d":"2015-07","s":"Growth","v":-0.0082},{"d":"2015-08","s":"Growth","v":-0.0085},{"d":"2015-09","s":"Growth","v":-0.0082},{"d":"2015-10","s":"Growth","v":-0.0077},{"d":"2015-11","s":"Growth","v":-0.0073},{"d":"2015-12","s":"Growth","v":-0.0070},
{"d":"2016-01","s":"Growth","v":-0.0072},{"d":"2016-02","s":"Growth","v":-0.0074},{"d":"2016-03","s":"Growth","v":-0.0078},{"d":"2016-04","s":"Growth","v":-0.0071},{"d":"2016-05","s":"Growth","v":-0.0065},{"d":"2016-06","s":"Growth","v":-0.0061},{"d":"2016-07","s":"Growth","v":-0.0062},{"d":"2016-08","s":"Growth","v":-0.0060},{"d":"2016-09","s":"Growth","v":-0.0058},{"d":"2016-10","s":"Growth","v":-0.0060},{"d":"2016-11","s":"Growth","v":-0.0056},{"d":"2016-12","s":"Growth","v":-0.0061},
{"d":"2017-01","s":"Growth","v":-0.0065},{"d":"2017-02","s":"Growth","v":-0.0064},{"d":"2017-03","s":"Growth","v":-0.0063},{"d":"2017-04","s":"Growth","v":-0.0061},{"d":"2017-05","s":"Growth","v":-0.0058},{"d":"2017-06","s":"Growth","v":-0.0058},{"d":"2017-07","s":"Growth","v":-0.0055},{"d":"2017-08","s":"Growth","v":-0.0059},{"d":"2017-09","s":"Growth","v":-0.0060},{"d":"2017-10","s":"Growth","v":-0.0058},{"d":"2017-11","s":"Growth","v":-0.0061},{"d":"2017-12","s":"Growth","v":-0.0066},
{"d":"2018-01","s":"Growth","v":-0.0065},{"d":"2018-02","s":"Growth","v":-0.0064},{"d":"2018-03","s":"Growth","v":-0.0065},{"d":"2018-04","s":"Growth","v":-0.0064},{"d":"2018-05","s":"Growth","v":-0.0055},{"d":"2018-06","s":"Growth","v":-0.0060},{"d":"2018-07","s":"Growth","v":-0.0064},{"d":"2018-08","s":"Growth","v":-0.0065},{"d":"2018-09","s":"Growth","v":-0.0062},{"d":"2018-10","s":"Growth","v":-0.0064},{"d":"2018-11","s":"Growth","v":-0.0067},{"d":"2018-12","s":"Growth","v":-0.0062},
{"d":"2019-01","s":"Growth","v":-0.0057},{"d":"2019-02","s":"Growth","v":-0.0056},{"d":"2019-03","s":"Growth","v":-0.0056},{"d":"2019-04","s":"Growth","v":-0.0059},{"d":"2019-05","s":"Growth","v":-0.0057},{"d":"2019-06","s":"Growth","v":-0.0053},{"d":"2019-07","s":"Growth","v":-0.0048},{"d":"2019-08","s":"Growth","v":-0.0050},{"d":"2019-09","s":"Growth","v":-0.0050},{"d":"2019-10","s":"Growth","v":-0.0048},{"d":"2019-11","s":"Growth","v":-0.0046},{"d":"2019-12","s":"Growth","v":-0.0044},
{"d":"2020-01","s":"Growth","v":-0.0039},{"d":"2020-02","s":"Growth","v":-0.0034},{"d":"2020-03","s":"Growth","v":-0.0031},{"d":"2020-04","s":"Growth","v":-0.0031},{"d":"2020-05","s":"Growth","v":-0.0031},{"d":"2020-06","s":"Growth","v":-0.0024},{"d":"2020-07","s":"Growth","v":-0.0022},{"d":"2020-08","s":"Growth","v":-0.0024},{"d":"2020-09","s":"Growth","v":-0.0023},{"d":"2020-10","s":"Growth","v":-0.0021},{"d":"2020-11","s":"Growth","v":-0.0020},{"d":"2020-12","s":"Growth","v":-0.0019},
{"d":"2021-01","s":"Growth","v":-0.0021},{"d":"2021-02","s":"Growth","v":-0.0022},{"d":"2021-03","s":"Growth","v":-0.0023},{"d":"2021-04","s":"Growth","v":-0.0023},{"d":"2021-05","s":"Growth","v":-0.0022},{"d":"2021-06","s":"Growth","v":-0.0021},{"d":"2021-07","s":"Growth","v":-0.0023},{"d":"2021-08","s":"Growth","v":-0.0024},{"d":"2021-09","s":"Growth","v":-0.0025},{"d":"2021-10","s":"Growth","v":-0.0023},{"d":"2021-11","s":"Growth","v":-0.0021},{"d":"2021-12","s":"Growth","v":-0.0019},
{"d":"2022-01","s":"Growth","v":-0.0018},{"d":"2022-02","s":"Growth","v":-0.0015},{"d":"2022-03","s":"Growth","v":-0.0017},{"d":"2022-04","s":"Growth","v":-0.0017},{"d":"2022-05","s":"Growth","v":-0.0016},{"d":"2022-06","s":"Growth","v":-0.0012},{"d":"2022-07","s":"Growth","v":-0.0011},{"d":"2022-08","s":"Growth","v":-0.0010},{"d":"2022-09","s":"Growth","v":-0.0008},{"d":"2022-10","s":"Growth","v":-0.0008},{"d":"2022-11","s":"Growth","v":-0.0006},{"d":"2022-12","s":"Growth","v":-0.0005},
{"d":"2023-01","s":"Growth","v":-0.0004},{"d":"2023-02","s":"Growth","v":-0.0004},

{"d":"2008-02","s":"Yield","v":0.0037},{"d":"2008-03","s":"Yield","v":0.0037},{"d":"2008-04","s":"Yield","v":0.0034},{"d":"2008-05","s":"Yield","v":0.0034},{"d":"2008-06","s":"Yield","v":0.0036},{"d":"2008-07","s":"Yield","v":0.0037},{"d":"2008-08","s":"Yield","v":0.0038},{"d":"2008-09","s":"Yield","v":0.0038},{"d":"2008-10","s":"Yield","v":0.0035},{"d":"2008-11","s":"Yield","v":0.0033},{"d":"2008-12","s":"Yield","v":0.0039},
{"d":"2009-01","s":"Yield","v":0.0030},{"d":"2009-02","s":"Yield","v":0.0023},{"d":"2009-03","s":"Yield","v":0.0026},{"d":"2009-04","s":"Yield","v":0.0029},{"d":"2009-05","s":"Yield","v":0.0025},{"d":"2009-06","s":"Yield","v":0.0024},{"d":"2009-07","s":"Yield","v":0.0025},{"d":"2009-08","s":"Yield","v":0.0030},{"d":"2009-09","s":"Yield","v":0.0025},{"d":"2009-10","s":"Yield","v":0.0019},{"d":"2009-11","s":"Yield","v":0.0015},{"d":"2009-12","s":"Yield","v":0.0015},
{"d":"2010-01","s":"Yield","v":0.0013},{"d":"2010-02","s":"Yield","v":0.0012},{"d":"2010-03","s":"Yield","v":-0.0005},{"d":"2010-04","s":"Yield","v":-0.0056},{"d":"2010-05","s":"Yield","v":-0.0097},{"d":"2010-06","s":"Yield","v":-0.0095},{"d":"2010-07","s":"Yield","v":-0.0103},{"d":"2010-08","s":"Yield","v":-0.0106},{"d":"2010-09","s":"Yield","v":-0.0110},{"d":"2010-10","s":"Yield","v":-0.0099},{"d":"2010-11","s":"Yield","v":-0.0100},{"d":"2010-12","s":"Yield","v":-0.0103},
{"d":"2011-01","s":"Yield","v":-0.0110},{"d":"2011-02","s":"Yield","v":-0.0109},{"d":"2011-03","s":"Yield","v":-0.0090},{"d":"2011-04","s":"Yield","v":-0.0103},{"d":"2011-05","s":"Yield","v":-0.0101},{"d":"2011-06","s":"Yield","v":-0.0083},{"d":"2011-07","s":"Yield","v":-0.0085},{"d":"2011-08","s":"Yield","v":-0.0075},{"d":"2011-09","s":"Yield","v":-0.0065},{"d":"2011-10","s":"Yield","v":-0.0063},{"d":"2011-11","s":"Yield","v":-0.0067},{"d":"2011-12","s":"Yield","v":-0.0078},
{"d":"2012-01","s":"Yield","v":-0.0076},{"d":"2012-02","s":"Yield","v":-0.0073},{"d":"2012-03","s":"Yield","v":-0.0072},{"d":"2012-04","s":"Yield","v":-0.0071},{"d":"2012-05","s":"Yield","v":-0.0071},{"d":"2012-06","s":"Yield","v":-0.0079},{"d":"2012-07","s":"Yield","v":-0.0078},{"d":"2012-08","s":"Yield","v":-0.0083},{"d":"2012-09","s":"Yield","v":-0.0085},{"d":"2012-10","s":"Yield","v":-0.0088},{"d":"2012-11","s":"Yield","v":-0.0095},{"d":"2012-12","s":"Yield","v":-0.0100},
{"d":"2013-01","s":"Yield","v":-0.0095},{"d":"2013-02","s":"Yield","v":-0.0092},{"d":"2013-03","s":"Yield","v":-0.0087},{"d":"2013-04","s":"Yield","v":-0.0086},{"d":"2013-05","s":"Yield","v":-0.0092},{"d":"2013-06","s":"Yield","v":-0.0087},{"d":"2013-07","s":"Yield","v":-0.0100},{"d":"2013-08","s":"Yield","v":-0.0101},{"d":"2013-09","s":"Yield","v":-0.0100},{"d":"2013-10","s":"Yield","v":-0.0101},{"d":"2013-11","s":"Yield","v":-0.0102},{"d":"2013-12","s":"Yield","v":-0.0101},
{"d":"2014-01","s":"Yield","v":-0.0100},{"d":"2014-02","s":"Yield","v":-0.0102},{"d":"2014-03","s":"Yield","v":-0.0104},{"d":"2014-04","s":"Yield","v":-0.0106},{"d":"2014-05","s":"Yield","v":-0.0108},{"d":"2014-06","s":"Yield","v":-0.0110},{"d":"2014-07","s":"Yield","v":-0.0105},{"d":"2014-08","s":"Yield","v":-0.0108},{"d":"2014-09","s":"Yield","v":-0.0121},{"d":"2014-10","s":"Yield","v":-0.0109},{"d":"2014-11","s":"Yield","v":-0.0106},{"d":"2014-12","s":"Yield","v":-0.0104},
{"d":"2015-01","s":"Yield","v":-0.0102},{"d":"2015-02","s":"Yield","v":-0.0100},{"d":"2015-03","s":"Yield","v":-0.0099},{"d":"2015-04","s":"Yield","v":-0.0102},{"d":"2015-05","s":"Yield","v":-0.0099},{"d":"2015-06","s":"Yield","v":-0.0099},{"d":"2015-07","s":"Yield","v":-0.0106},{"d":"2015-08","s":"Yield","v":-0.0110},{"d":"2015-09","s":"Yield","v":-0.0100},{"d":"2015-10","s":"Yield","v":-0.0092},{"d":"2015-11","s":"Yield","v":-0.0085},{"d":"2015-12","s":"Yield","v":-0.0084},
{"d":"2016-01","s":"Yield","v":-0.0085},{"d":"2016-02","s":"Yield","v":-0.0087},{"d":"2016-03","s":"Yield","v":-0.0090},{"d":"2016-04","s":"Yield","v":-0.0080},{"d":"2016-05","s":"Yield","v":-0.0074},{"d":"2016-06","s":"Yield","v":-0.0068},{"d":"2016-07","s":"Yield","v":-0.0071},{"d":"2016-08","s":"Yield","v":-0.0070},{"d":"2016-09","s":"Yield","v":-0.0065},{"d":"2016-10","s":"Yield","v":-0.0069},{"d":"2016-11","s":"Yield","v":-0.0067},{"d":"2016-12","s":"Yield","v":-0.0075},
{"d":"2017-01","s":"Yield","v":-0.0080},{"d":"2017-02","s":"Yield","v":-0.0082},{"d":"2017-03","s":"Yield","v":-0.0085},{"d":"2017-04","s":"Yield","v":-0.0083},{"d":"2017-05","s":"Yield","v":-0.0072},{"d":"2017-06","s":"Yield","v":-0.0077},{"d":"2017-07","s":"Yield","v":-0.0080},{"d":"2017-08","s":"Yield","v":-0.0081},{"d":"2017-09","s":"Yield","v":-0.0078},{"d":"2017-10","s":"Yield","v":-0.0079},{"d":"2017-11","s":"Yield","v":-0.0082},{"d":"2017-12","s":"Yield","v":-0.0088},
{"d":"2018-01","s":"Yield","v":-0.0091},{"d":"2018-02","s":"Yield","v":-0.0088},{"d":"2018-03","s":"Yield","v":-0.0076},{"d":"2018-04","s":"Yield","v":-0.0068},{"d":"2018-05","s":"Yield","v":-0.0071},{"d":"2018-06","s":"Yield","v":-0.0075},{"d":"2018-07","s":"Yield","v":-0.0079},{"d":"2018-08","s":"Yield","v":-0.0081},{"d":"2018-09","s":"Yield","v":-0.0080},{"d":"2018-10","s":"Yield","v":-0.0085},{"d":"2018-11","s":"Yield","v":-0.0084},{"d":"2018-12","s":"Yield","v":-0.0078},
{"d":"2019-01","s":"Yield","v":-0.0074},{"d":"2019-02","s":"Yield","v":-0.0070},{"d":"2019-03","s":"Yield","v":-0.0067},{"d":"2019-04","s":"Yield","v":-0.0070},{"d":"2019-05","s":"Yield","v":-0.0055},{"d":"2019-06","s":"Yield","v":-0.0044},{"d":"2019-07","s":"Yield","v":-0.0037},{"d":"2019-08","s":"Yield","v":-0.0044},{"d":"2019-09","s":"Yield","v":-0.0050},{"d":"2019-10","s":"Yield","v":-0.0050},{"d":"2019-11","s":"Yield","v":-0.0043},{"d":"2019-12","s":"Yield","v":-0.0038},
{"d":"2020-01","s":"Yield","v":-0.0033},{"d":"2020-02","s":"Yield","v":-0.0018},{"d":"2020-03","s":"Yield","v":-0.0014},{"d":"2020-04","s":"Yield","v":-0.0014},{"d":"2020-05","s":"Yield","v":-0.0016},{"d":"2020-06","s":"Yield","v":-0.0016},{"d":"2020-07","s":"Yield","v":-0.0020},{"d":"2020-08","s":"Yield","v":-0.0018},{"d":"2020-09","s":"Yield","v":-0.0014},{"d":"2020-10","s":"Yield","v":-0.0020},{"d":"2020-11","s":"Yield","v":-0.0024},{"d":"2020-12","s":"Yield","v":-0.0024},
{"d":"2021-01","s":"Yield","v":-0.0026},{"d":"2021-02","s":"Yield","v":-0.0028},{"d":"2021-03","s":"Yield","v":-0.0030},{"d":"2021-04","s":"Yield","v":-0.0035},{"d":"2021-05","s":"Yield","v":-0.0035},{"d":"2021-06","s":"Yield","v":-0.0036},{"d":"2021-07","s":"Yield","v":-0.0038},{"d":"2021-08","s":"Yield","v":-0.0035},{"d":"2021-09","s":"Yield","v":-0.0029},{"d":"2021-10","s":"Yield","v":-0.0024},{"d":"2021-11","s":"Yield","v":-0.0027},{"d":"2021-12","s":"Yield","v":-0.0029},
{"d":"2022-01","s":"Yield","v":-0.0026},{"d":"2022-02","s":"Yield","v":-0.0024},{"d":"2022-03","s":"Yield","v":-0.0023},{"d":"2022-04","s":"Yield","v":-0.0024},{"d":"2022-05","s":"Yield","v":-0.0018},{"d":"2022-06","s":"Yield","v":-0.0012},{"d":"2022-07","s":"Yield","v":-0.0007},{"d":"2022-08","s":"Yield","v":-0.0010},{"d":"2022-09","s":"Yield","v":-0.0009},{"d":"2022-10","s":"Yield","v":-0.0008},{"d":"2022-11","s":"Yield","v":-0.0009},{"d":"2022-12","s":"Yield","v":-0.0010},
{"d":"2023-01","s":"Yield","v":-0.0010},{"d":"2023-02","s":"Yield","v":-0.0010}
]},
"layer":[
{"mark":{"type":"line","strokeWidth":3.5,"strokeJoin":"round","clip":false},
 "encoding":{
  "x":{"field":"d","type":"temporal","scale":{"type":"utc","domain":[{"year":2008,"month":2,"date":1,"utc":true},{"year":2023,"month":2,"date":1,"utc":true}],"nice":false},
   "axis":{"title":null,"tickCount":{"interval":"month","step":1},"labelExpr":"utcmonth(datum.value)%4==3 ? utcFormat(datum.value,'%b%y') : ''","labelAngle":270,"labelAlign":"right","labelBaseline":"middle","labelFontSize":16,"labelColor":"#d8d8d8","labelOverlap":false,"labelBound":false,"labelPadding":6,"ticks":false,"grid":false,"domain":true,"domainColor":"#bbbbbb","domainDash":[2,2],"domainWidth":1.5}},
  "y":{"field":"v","type":"quantitative","scale":{"domain":[-0.0142,0.026],"nice":false,"zero":false},
   "axis":{"title":null,"values":[-0.01,0,0.01,0.02],"format":".2%","grid":true,"gridDash":[3,3],"gridColor":"#4a4a4a","gridWidth":1,"domain":false,"ticks":true,"tickColor":"#dddddd","tickSize":6,"tickWidth":1.5,"offset":4,"labelColor":"#e6e6e6","labelFontSize":16.5,"labelPadding":3}},
  "color":{"field":"s","type":"nominal","legend":null,"scale":{"domain":["Yield","GARP","Growth","Aggr","Value"],"range":["#2e3262","#4caf50","#12bcd6","#d26c00","#fc4a3a"]}}
 }},
{"transform":[{"filter":"utcyear(datum.d)==2023 && utcmonth(datum.d)==1 && (datum.s=='Value' || datum.s=='Growth' || datum.s=='Yield')"}],
 "mark":{"type":"text","align":"right","baseline":"middle","dx":4,"dy":-19,"fontSize":15.5,"color":"#ffffff"},
 "encoding":{"x":{"field":"d","type":"temporal"},"y":{"field":"v","type":"quantitative"},"text":{"field":"v","format":".2%"}}},
{"transform":[{"filter":"utcyear(datum.d)==2023 && utcmonth(datum.d)==1 && (datum.s=='Aggr' || datum.s=='GARP')"}],
 "mark":{"type":"text","align":"right","baseline":"middle","dx":4,"dy":-2,"fontSize":15.5,"color":"#ffffff"},
 "encoding":{"x":{"field":"d","type":"temporal"},"y":{"field":"v","type":"quantitative"},"text":{"field":"v","format":".2%"}}}
]
}
